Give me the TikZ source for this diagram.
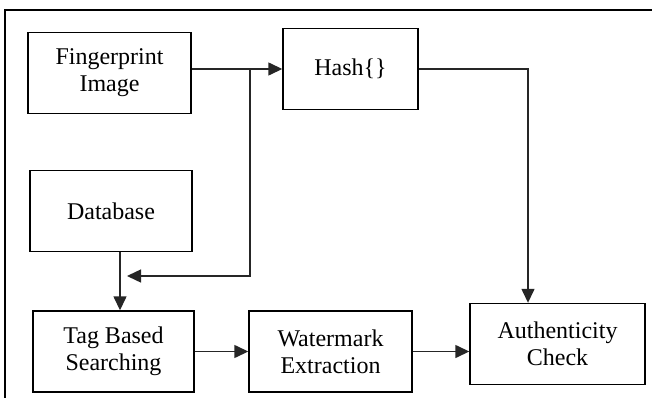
\documentclass[tikz,border=0pt]{standalone}
\usepackage{fontspec}
\setmainfont{Liberation Serif}
\usetikzlibrary{arrows.meta}
\tikzset{
    stage/.style={
        draw,
        line width=1.4pt,
        align=center,
        font=\fontsize{24}{27}\selectfont,
        minimum height=81pt,
        inner sep=2pt
    },
    arrow/.style={-{Triangle[length=14pt,width=13pt]}, line width=1.4pt, draw=black!85}
}

\begin{document}
\begin{tikzpicture}[x=1pt,y=-1pt]
\useasboundingbox (0,0) rectangle (652,398);

% Frame
\draw[line width=2pt] (5,398) -- (5,10) -- (652,10);

% Boxes
\node[stage, minimum width=163pt] (fp) at (109.5,73)
{Fingerprint\\Image};

\node[stage, minimum width=135pt] (hash) at (350.5,69)
{Hash\{\}};

\node[stage, minimum width=162pt] (db) at (111,211)
{Database};

\node[stage, minimum width=161pt] (tag) at (113.5,351.5)
{Tag Based\\Searching};

\node[stage, minimum width=163pt] (wm) at (330.5,351.5)
{Watermark\\Extraction};

\node[stage, minimum width=175pt] (auth) at (557.5,344)
{Authenticity\\Check};

% Turning points
\coordinate (split) at (250,70);
\coordinate (drop) at (120,276);
\coordinate (back) at (127,276);
\coordinate (turn) at (528,69);

% Connectors
\draw[arrow] (fp.east |- hash.west) -- (hash.west);
\draw[arrow] (split) -- (split |- back) -- (back);
\draw[arrow] (db.south -| drop) -- (tag.north -| drop);
\draw[arrow] (hash.east) -- (turn) -- (turn |- auth.north);
\draw[arrow] (tag.east |- wm.east) -- (wm.west);
\draw[arrow] (wm.east) -- (wm.east -| auth.west);

\end{tikzpicture}
\end{document}
